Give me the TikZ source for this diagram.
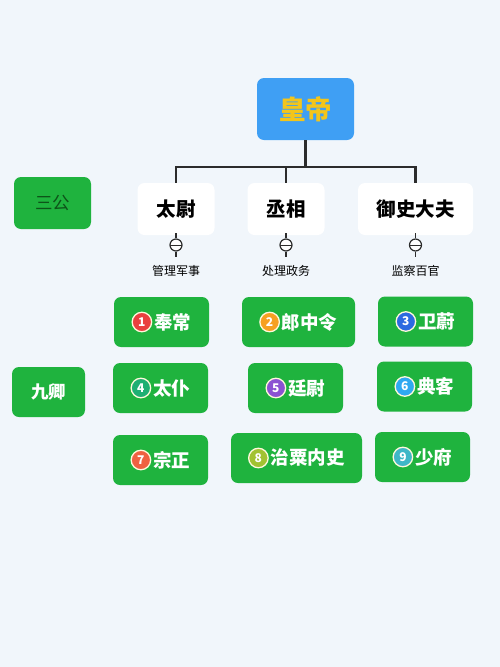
\documentclass[tikz,border=0pt]{standalone}
\usepackage{fontspec}
\setmainfont{Noto Sans CJK SC}
\usetikzlibrary{positioning}

\definecolor{bgcol}{HTML}{F1F6FB}
\definecolor{empblue}{HTML}{3F9FF4}
\definecolor{empgold}{HTML}{F3C51A}
\definecolor{qgreen}{HTML}{1FB33E}
\definecolor{sangtext}{HTML}{0D5419}
\definecolor{linecol}{HTML}{2C2C2C}
\definecolor{ringcol}{HTML}{FFF8DC}
\definecolor{nA}{HTML}{E9403F}
\definecolor{nB}{HTML}{F6A021}
\definecolor{nC}{HTML}{2D6AE0}
\definecolor{nD}{HTML}{1FAF73}
\definecolor{nE}{HTML}{8B52D2}
\definecolor{nF}{HTML}{2FA9F1}
\definecolor{nG}{HTML}{EF6141}
\definecolor{nH}{HTML}{A2C231}
\definecolor{nI}{HTML}{3FB7C7}

\begin{document}
\begin{tikzpicture}[x=1pt,y=-1pt,
    box/.style={rounded corners=7pt, inner sep=0pt, minimum height=50pt},
    emp/.style={box, fill=empblue, text=empgold, minimum width=97pt,
        minimum height=62pt, font=\fontsize{26.5}{26.5}\selectfont\bfseries},
    minister/.style={box, fill=white, minimum height=52pt,
        font=\fontsize{19.5}{19.5}\selectfont\bfseries},
    gbox/.style={box, fill=qgreen},
    jtext/.style={inner sep=0pt, text=white, font=\fontsize{18.5}{18.5}\selectfont\bfseries},
    numc/.style={circle, draw=ringcol, line width=1.3pt, text=white, inner sep=0pt,
        minimum size=19.5pt, font=\fontsize{12}{12}\selectfont\bfseries},
    symc/.style={circle, draw=linecol, fill=white, line width=1.2pt, inner sep=0pt,
        minimum size=12pt, path picture={\draw[linecol, line width=1pt]
        (path picture bounding box.west) -- (path picture bounding box.east);}},
    tick/.style={draw=linecol, line width=1.8pt},
    duty/.style={inner sep=0pt, font=\fontsize{12}{12}\selectfont},
    conn/.style={draw=linecol, line width=2.6pt}
]
    \fill[bgcol] (0,0) rectangle (500,667);
    \useasboundingbox (0,0) rectangle (500,667);

    % emperor and the three ducal ministers
    \node[emp] (hd) at (305.5,109) {皇帝};
    \node[minister, minimum width=77pt] (tw) at (176,209) {太尉};
    \node[minister, minimum width=77pt] (cx) at (286,209) {丞相};
    \node[minister, minimum width=115pt] (ys) at (415.5,209) {御史大夫};
    \coordinate (bus) at (305.5,167);

    \draw[conn] (hd.south) -- (bus);
    \draw[conn] (bus) -| (tw.north);
    \draw[conn] (bus) -| (cx.north);
    \draw[conn] (bus) -| (ys.north);

    % duty markers
    \foreach \m/\d in {tw/管理军事, cx/处理政务, ys/监察百官} {
        \node[symc] (s\m) at (\m.south |- 0,245) {};
        \draw[tick] (s\m.north) -- ++(0,-5);
        \draw[tick] (s\m.south) -- ++(0,5);
        \node[duty] (d\m) at (\m.south |- 0,271) {\d};
    }

    % row titles
    \node[gbox, minimum width=77pt, minimum height=52pt, text=sangtext,
        font=\fontsize{17.5}{17.5}\selectfont] (sg) at (52.5,203) {三公};
    \node[gbox, minimum width=73pt, minimum height=50pt, text=white,
        font=\fontsize{17.5}{17.5}\selectfont\bfseries] (jq) at (48.5,392) {九卿};

    % nine ministers
    \foreach \x/\y/\w/\c/\n/\t in {
        161.5/322/95/nA/1/奉常, 298.5/322/113/nB/2/郎中令, 425.5/321.5/95/nC/3/卫蔚,
        160.5/388/95/nD/4/太仆, 295.5/388/95/nE/5/廷尉, 424.5/386.5/95/nF/6/典客,
        160.5/460/95/nG/7/宗正, 296.5/458/131/nH/8/治粟内史, 422.5/457/95/nI/9/少府} {
        \node[gbox, minimum width=\w pt] (b\n) at (\x,\y) {};
        \node[jtext] (t\n) at (\x+11,\y) {\t};
        \node[numc, fill=\c, left=1.5pt of t\n] (c\n) {\n};
    }
\end{tikzpicture}
\end{document}
